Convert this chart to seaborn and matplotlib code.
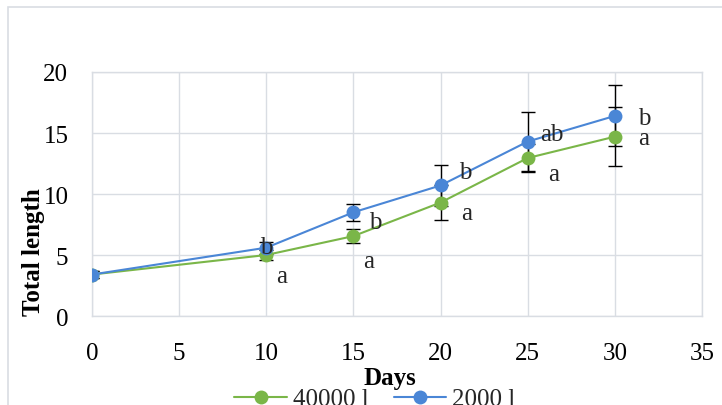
import numpy as np
import pandas as pd
import matplotlib
matplotlib.use('Agg')
import matplotlib.pyplot as plt
import seaborn as sns
from matplotlib.lines import Line2D
from matplotlib.patches import Rectangle

## DATA ##
days = [0, 10, 15, 20, 25, 30]
len_40000 = [3.4, 5.0, 6.55, 9.3, 12.95, 14.7]
sd_40000 = [0.3, 0.45, 0.6, 1.4, 1.15, 2.4]
len_2000 = [3.4, 5.6, 8.5, 10.7, 14.3, 16.4]
sd_2000 = [0.3, 0.5, 0.7, 1.7, 2.4, 2.5]
letters_40000 = ['', 'a', 'a', 'a', 'a', 'a']
letters_2000 = ['', 'b', 'b', 'b', 'ab', 'b']
groups = ['40000 l', '2000 l']

# letter offsets from the point, in pixels
offs_40000 = [(0, 0), (15, -21), (15, -25), (26, -10), (26, -16), (29, -1)]
offs_2000 = [(0, 0), (0, 1), (22, -10), (25, 13), (24, 8), (29, -2)]

green = '#7ab648'
blue = '#4a86d6'
grid_col = '#d9dde3'

df = pd.DataFrame({
    'Days': days * 2,
    'Length': len_40000 + len_2000,
    'Group': [groups[0]] * len(days) + [groups[1]] * len(days),
})

sns.set_theme(style='whitegrid')
plt.rcParams['font.family'] = ['Liberation Serif', 'DejaVu Serif']

fig = plt.figure(figsize=(7.22, 4.06), dpi=100)
ax = fig.add_axes([0.1274, 0.2192, 0.8449, 0.601])

# error bars first, markers on top
ax.errorbar(days, len_40000, yerr=sd_40000, fmt='none', ecolor='black',
            elinewidth=1, capsize=5, capthick=1, zorder=2)
ax.errorbar(days, len_2000, yerr=sd_2000, fmt='none', ecolor='black',
            elinewidth=1, capsize=5, capthick=1, zorder=2)

sns.lineplot(data=df, x='Days', y='Length', hue='Group',
             palette={groups[0]: green, groups[1]: blue},
             marker='o', markersize=10, markeredgewidth=0, linewidth=1.5,
             errorbar=None, legend=False, ax=ax, zorder=3)

# significance letters
for x, y, t, o in zip(days, len_40000, letters_40000, offs_40000):
    if t:
        ax.annotate(t, (x, y), xytext=o, textcoords='offset pixels',
                    ha='center', va='center', fontsize=18, zorder=5)
for x, y, t, o in zip(days, len_2000, letters_2000, offs_2000):
    if t:
        ax.annotate(t, (x, y), xytext=o, textcoords='offset pixels',
                    ha='center', va='center', fontsize=18, zorder=5)

ax.set_xlim(0, 35)
ax.set_ylim(0, 20)
ax.set_xticks(range(0, 36, 5))
ax.set_yticks(range(0, 21, 5))
ax.tick_params(axis='both', length=0, labelsize=18, colors='black')
ax.tick_params(axis='x', pad=19)
ax.tick_params(axis='y', pad=17)
ax.grid(True, color=grid_col, linewidth=1)
for s in ax.spines.values():
    s.set_color(grid_col)
    s.set_linewidth(1)

ax.set_xlabel('Days', fontsize=18, fontweight='bold', color='black')
ax.set_ylabel('Total length', fontsize=18, fontweight='bold', color='black')
ax.xaxis.set_label_coords(0.489, -0.205)
ax.yaxis.set_label_coords(-0.077, 0.266)

# legend at the bottom, partly cut off like the original
handles = [Line2D([], [], color=green, marker='o', markersize=10, markeredgewidth=0, linewidth=1.5),
           Line2D([], [], color=blue, marker='o', markersize=10, markeredgewidth=0, linewidth=1.5)]
fig.legend(handles, groups, loc='center', bbox_to_anchor=(375 / 722, 6 / 406),
           ncol=2, frameon=False, fontsize=18, handlelength=2.1,
           columnspacing=1.0, handletextpad=0.25)

# chart area border
fig.patches.append(Rectangle((8 / 722, -0.05), 1.0, 1.05 - 8 / 406, transform=fig.transFigure,
                             fill=False, edgecolor=grid_col, linewidth=1.2))

fig.savefig('out.png', dpi=100)
